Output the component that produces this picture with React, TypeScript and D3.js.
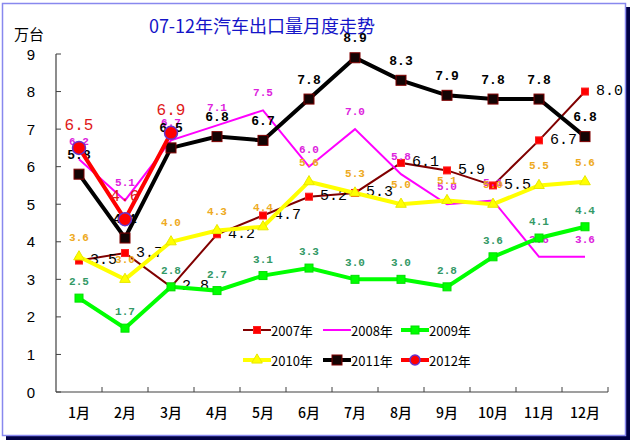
import React from "react";
import * as d3 from "d3";

const months = ["1月", "2月", "3月", "4月", "5月", "6月", "7月", "8月", "9月", "10月", "11月", "12月"];
const yTicks = [0, 1, 2, 3, 4, 5, 6, 7, 8, 9];

const s2007 = [3.5, 3.7, 2.8, 4.2, 4.7, 5.2, 5.3, 6.1, 5.9, 5.5, 6.7, 8.0];
const s2008 = [6.2, 5.1, 6.7, 7.1, 7.5, 6.0, 7.0, 5.8, 5.0, 5.1, 3.6, 3.6];
const s2009 = [2.5, 1.7, 2.8, 2.7, 3.1, 3.3, 3.0, 3.0, 2.8, 3.6, 4.1, 4.4];
const s2010 = [3.6, 3.0, 4.0, 4.3, 4.4, 5.6, 5.3, 5.0, 5.1, 5.0, 5.5, 5.6];
const s2011 = [5.8, 4.1, 6.5, 6.8, 6.7, 7.8, 8.9, 8.3, 7.9, 7.8, 7.8, 6.8];
const s2012 = [6.5, 4.6, 6.9];

const seriesNames = ["2007年", "2008年", "2009年", "2010年", "2011年", "2012年"];

type Style = {
  line: string;
  lw: number;
  marker: "square" | "none" | "triangle" | "circle";
  mSize: number;
  mFill: string;
  mStroke: string;
  labelColor: string;
  labelFont: string;
  labelSize: number;
  labelWeight: string;
  labelMode: "right" | "above";
  dy: number;
};

const styles: Style[] = [
  { line: "#800000", lw: 2, marker: "square", mSize: 7, mFill: "#ff0000", mStroke: "#ff2020", labelColor: "#000", labelFont: "'Liberation Mono', monospace", labelSize: 15, labelWeight: "normal", labelMode: "right", dy: 0 },
  { line: "#ff00ff", lw: 2, marker: "none", mSize: 0, mFill: "none", mStroke: "none", labelColor: "#dd22dd", labelFont: "'Liberation Mono', monospace", labelSize: 11, labelWeight: "bold", labelMode: "above", dy: -17 },
  { line: "#00ff00", lw: 4, marker: "square", mSize: 8, mFill: "#00ff00", mStroke: "#00e000", labelColor: "#339966", labelFont: "'Liberation Mono', monospace", labelSize: 11, labelWeight: "bold", labelMode: "above", dy: -16 },
  { line: "#ffff00", lw: 4, marker: "triangle", mSize: 9, mFill: "#ffff00", mStroke: "#e8e800", labelColor: "#eeaa22", labelFont: "'Liberation Mono', monospace", labelSize: 11, labelWeight: "bold", labelMode: "above", dy: -19 },
  { line: "#000000", lw: 4, marker: "square", mSize: 10, mFill: "#140404", mStroke: "#800000", labelColor: "#000", labelFont: "'Liberation Mono', monospace", labelSize: 13, labelWeight: "bold", labelMode: "above", dy: -19 },
  { line: "#ff0000", lw: 4, marker: "circle", mSize: 6.5, mFill: "#ff0000", mStroke: "#6633cc", labelColor: "#e01818", labelFont: "'Liberation Mono', monospace", labelSize: 16, labelWeight: "normal", labelMode: "above", dy: -22 },
];

const allSeries = [s2007, s2008, s2009, s2010, s2011, s2012];

const x = d3.scaleBand<string>().domain(months).range([56, 608]);
const y = d3.scaleLinear().domain([0, 9]).range([392, 54]);
const fmt = d3.format(".1f");

function Marker({ st, cx, cy }: { st: Style; cx: number; cy: number }) {
  if (st.marker === "square") {
    return <rect x={cx - st.mSize / 2} y={cy - st.mSize / 2} width={st.mSize} height={st.mSize} fill={st.mFill} stroke={st.mStroke} strokeWidth={1} />;
  }
  if (st.marker === "circle") {
    return <circle cx={cx} cy={cy} r={st.mSize} fill={st.mFill} stroke={st.mStroke} strokeWidth={1.5} />;
  }
  if (st.marker === "triangle") {
    const sym = d3.symbol().type(d3.symbolTriangle).size(st.mSize * st.mSize * 0.6)();
    return <path d={sym || ""} transform={`translate(${cx},${cy})`} fill={st.mFill} stroke={st.mStroke} />;
  }
  return null;
}

export default function App() {
  const cx = (i: number) => (x(months[i]) as number) + x.bandwidth() / 2;
  const line = d3
    .line<number>()
    .x((_, i) => cx(i))
    .y((d) => y(d));

  const legendPos = [
    [243, 330],
    [323, 330],
    [401, 330],
    [243, 360],
    [323, 360],
    [401, 360],
  ];

  const cjk = "'Noto Sans CJK SC', sans-serif";

  return (
    <svg width={633} height={443} style={{ position: "absolute", left: 0, top: 0, background: "#fff" }}>
      {/* frame with shadow */}
      <rect x={6} y={7} width={624} height={433} fill="#000044" />
      <rect x={2.5} y={3.5} width={623} height={432} fill="#fff" stroke="#8888ee" strokeWidth={1.5} />

      <text x={262} y={25} textAnchor="middle" dominantBaseline="central" fontFamily={cjk} fontSize={18} fill="#1515c8">
        07-12年汽车出口量月度走势
      </text>
      <text x={29} y={33} textAnchor="middle" dominantBaseline="central" fontFamily={cjk} fontSize={15} fill="#000">
        万台
      </text>

      {/* axes */}
      <line x1={56} y1={y(9)} x2={56} y2={392} stroke="#404040" strokeWidth={1.2} />
      <line x1={56} y1={392} x2={608} y2={392} stroke="#404040" strokeWidth={1.2} />
      {yTicks.map((t) => (
        <g key={t}>
          <line x1={56} x2={61} y1={y(t)} y2={y(t)} stroke="#404040" />
          <text x={31} y={y(t)} textAnchor="middle" dominantBaseline="central" fontFamily="'Liberation Sans', sans-serif" fontSize={15} fill="#000">
            {t}
          </text>
        </g>
      ))}
      {months.map((m, i) => (
        <g key={m}>
          <line x1={(x(m) as number) + x.bandwidth()} x2={(x(m) as number) + x.bandwidth()} y1={392} y2={387} stroke="#404040" />
          <text x={cx(i)} y={412} textAnchor="middle" dominantBaseline="central" fontFamily={cjk} fontSize={14} fontWeight={500} fill="#000">
            {m}
          </text>
        </g>
      ))}

      {/* series */}
      {allSeries.map((data, si) => {
        const st = styles[si];
        return (
          <g key={si}>
            <path d={line(data) || ""} fill="none" stroke={st.line} strokeWidth={st.lw} strokeLinejoin="miter" />
            {data.map((v, i) => (
              <Marker key={i} st={st} cx={cx(i)} cy={y(v)} />
            ))}
            {data.map((v, i) => (
              <text
                key={"l" + i}
                x={st.labelMode === "right" ? cx(i) + 11 : cx(i)}
                y={y(v) + st.dy}
                textAnchor={st.labelMode === "right" ? "start" : "middle"}
                dominantBaseline="central"
                fontFamily={st.labelFont}
                fontSize={st.labelSize}
                fontWeight={st.labelWeight}
                fill={st.labelColor}
              >
                {fmt(v)}
              </text>
            ))}
          </g>
        );
      })}

      {/* legend */}
      {seriesNames.map((n, i) => {
        const st = styles[i];
        const [lx, ly] = legendPos[i];
        return (
          <g key={n}>
            <line x1={lx} x2={lx + 28} y1={ly} y2={ly} stroke={st.line} strokeWidth={st.lw} />
            <Marker st={{ ...st, mSize: st.marker === "circle" ? 5 : st.mSize }} cx={lx + 14} cy={ly} />
            <text x={lx + 28} y={ly} dominantBaseline="central" fontFamily={cjk} fontSize={13} fill="#000">
              {n}
            </text>
          </g>
        );
      })}
    </svg>
  );
}
